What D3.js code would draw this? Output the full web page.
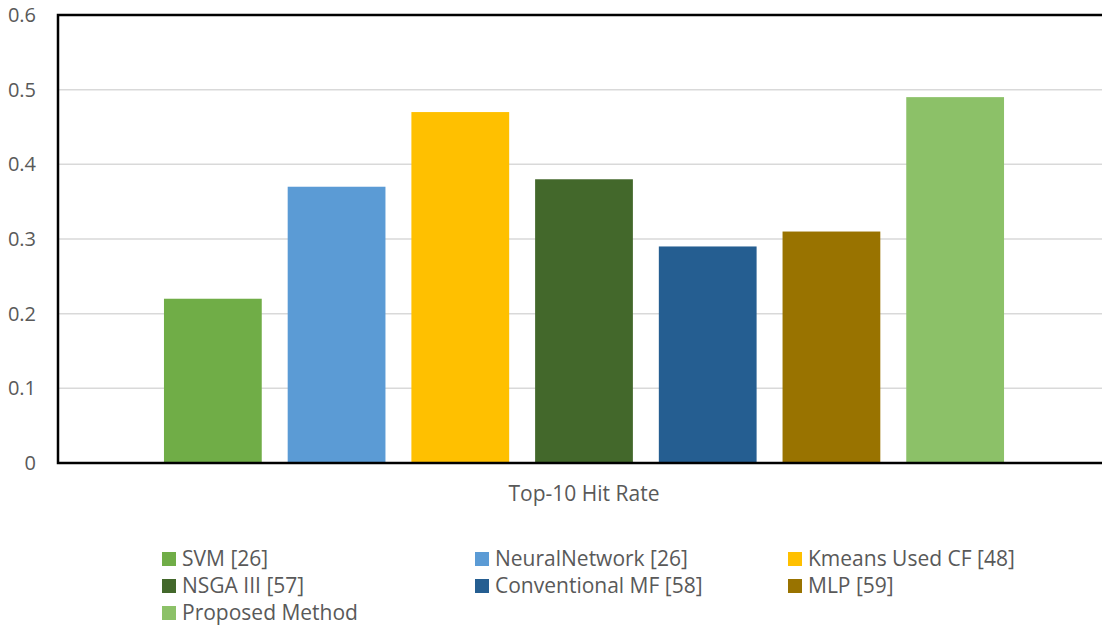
<!DOCTYPE html>
<html lang="en">
<head>
  <meta charset="UTF-8">
  <title>Top-10 Hit Rate</title>
  <style>
    body { margin: 0; background: #fff; }
    .tick text, .label, .legend text {
      font-family: "Open Sans", sans-serif;
      fill: #595959;
    }
  </style>
  <script src="https://d3js.org/d3.v7.min.js"></script>
</head>
<body>
<svg id="chart"></svg>
<script>
  var methods = ['SVM [26]', 'NeuralNetwork [26]', 'Kmeans Used CF [48]', 'NSGA III [57]',
                 'Conventional MF [58]', 'MLP [59]', 'Proposed Method'];
  var hitRate = [0.22, 0.37, 0.47, 0.38, 0.29, 0.31, 0.49];
  var colors = ['#70ad47', '#5b9bd5', '#ffc000', '#43682b', '#255e91', '#997300', '#8cc168'];
  var yTicks = [0, 0.1, 0.2, 0.3, 0.4, 0.5, 0.6];
  var category = 'Top-10 Hit Rate';

  var width = 1102, height = 626;
  var plotL = 58, plotR = 1110, plotT = 15, plotB = 463;

  var svg = d3.select('#chart').attr('width', width).attr('height', height);

  var y = d3.scaleLinear().domain([0, 0.6]).range([plotB, plotT]);
  var x = d3.scaleBand().domain(methods).range([151, 1017])
            .paddingInner(26 / 124).paddingOuter(13 / 124);

  // gridlines
  svg.append('g').selectAll('line')
    .data(yTicks.filter(function(d){ return d > 0 && d < 0.6; }))
    .enter().append('line')
    .attr('x1', plotL).attr('x2', plotR)
    .attr('y1', function(d){ return y(d); })
    .attr('y2', function(d){ return y(d); })
    .attr('stroke', '#d9d9d9').attr('stroke-width', 1.5);

  // bars
  svg.append('g').selectAll('rect')
    .data(hitRate)
    .enter().append('rect')
    .attr('x', function(d, i){ return x(methods[i]); })
    .attr('width', x.bandwidth())
    .attr('y', function(d){ return y(d); })
    .attr('height', function(d){ return y(0) - y(d); })
    .attr('fill', function(d, i){ return colors[i]; });

  // frame
  svg.append('rect')
    .attr('x', plotL).attr('y', plotT)
    .attr('width', plotR - plotL).attr('height', plotB - plotT)
    .attr('fill', 'none').attr('stroke', '#000').attr('stroke-width', 2.5);

  // y axis labels
  var yAxis = d3.axisLeft(y).tickValues(yTicks).tickSize(0).tickPadding(22)
                .tickFormat(function(d){ return d === 0 ? '0' : d3.format('.1f')(d); });
  var ay = svg.append('g').attr('transform', 'translate(' + plotL + ',0)').call(yAxis);
  ay.select('.domain').remove();
  ay.selectAll('text').style('font-size', '20px');

  // category label
  svg.append('text').attr('class', 'label')
    .attr('x', (plotL + plotR) / 2).attr('y', 501)
    .attr('text-anchor', 'middle').style('font-size', '21px')
    .text(category);

  // legend
  var legX = [162, 475, 788], legY = [559, 586, 613];
  var leg = svg.append('g').attr('class', 'legend').selectAll('g')
    .data(methods).enter().append('g')
    .attr('transform', function(d, i){
      return 'translate(' + legX[i % 3] + ',' + legY[Math.floor(i / 3)] + ')';
    });
  leg.append('rect').attr('x', 0).attr('y', -7).attr('width', 14).attr('height', 14)
    .attr('fill', function(d, i){ return colors[i]; });
  leg.append('text').attr('x', 20).attr('y', 7)
    .style('font-size', '21px')
    .text(function(d){ return d; });
</script>
</body>
</html>
